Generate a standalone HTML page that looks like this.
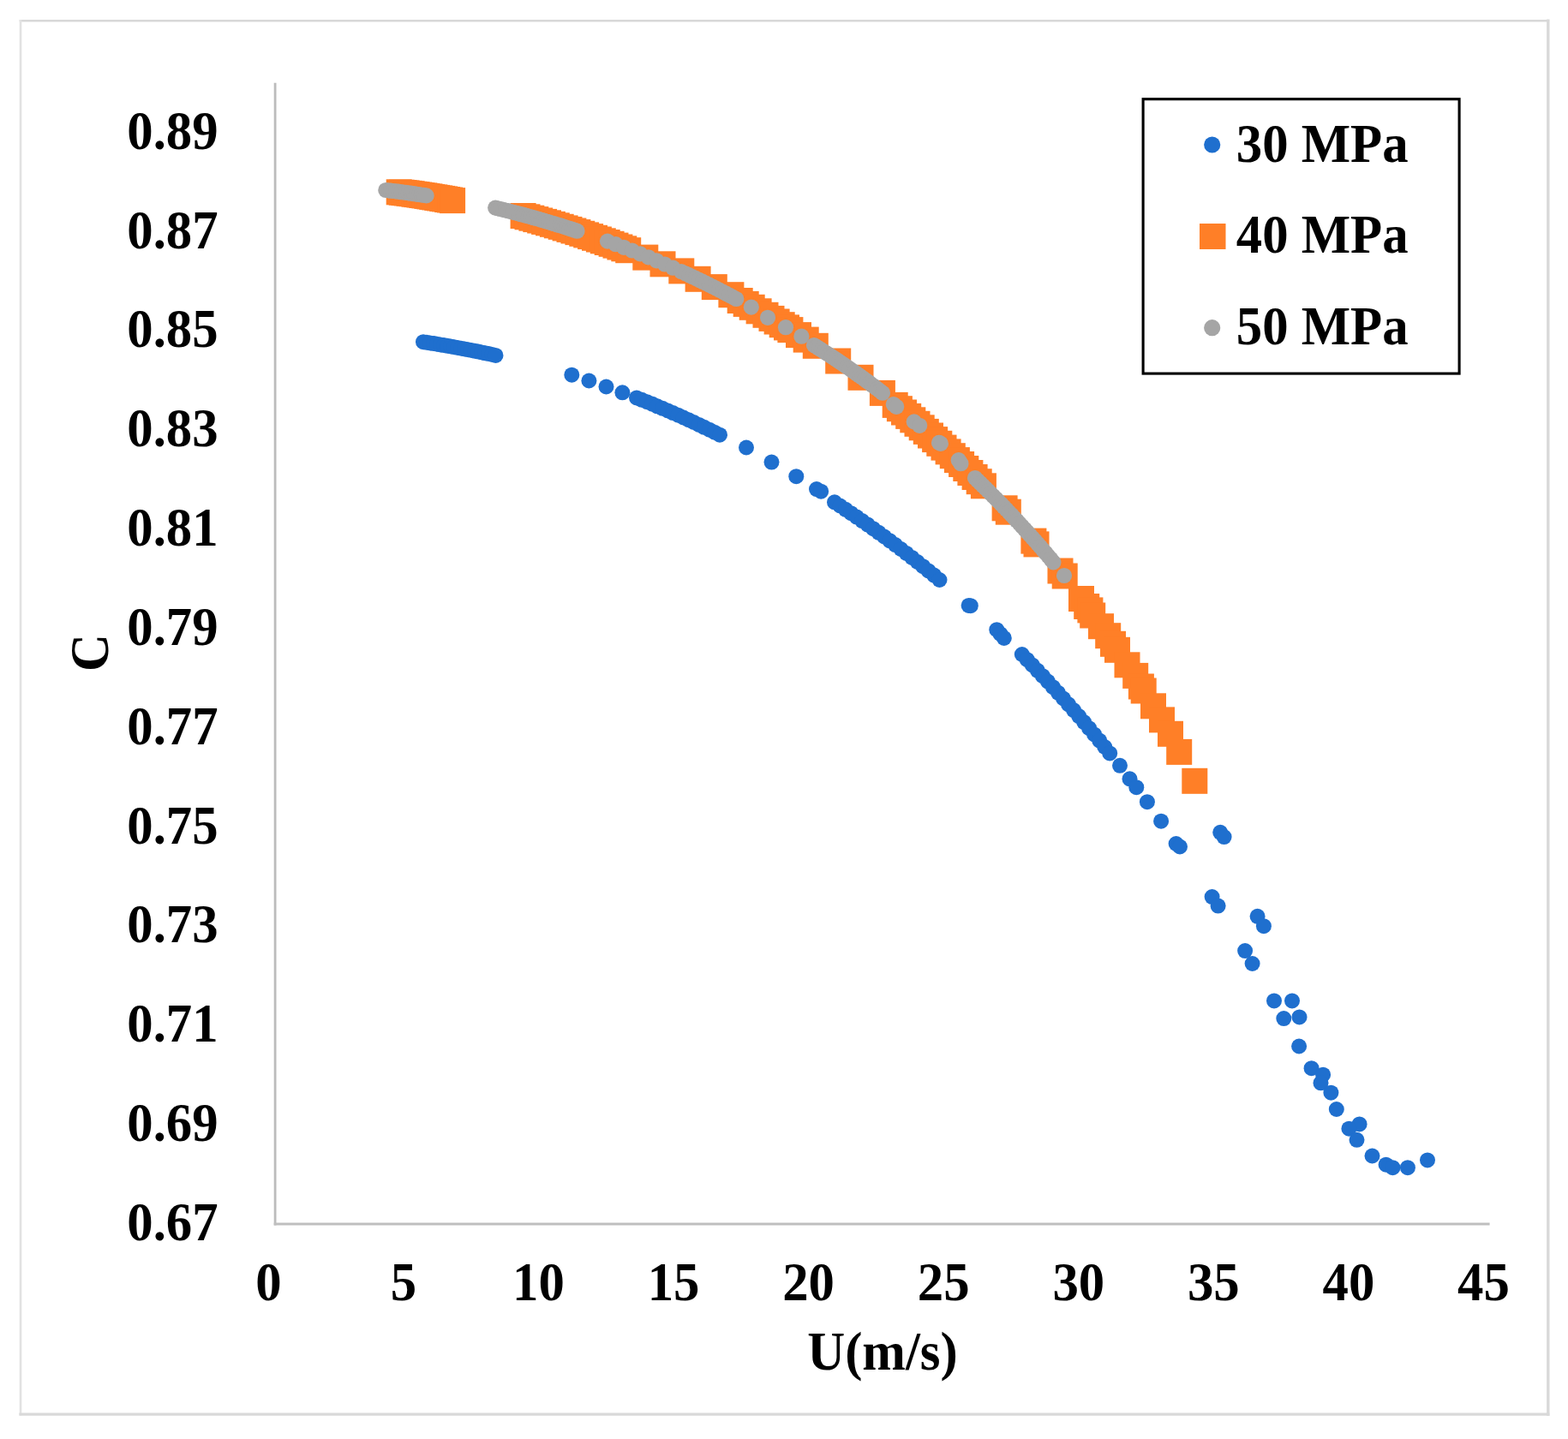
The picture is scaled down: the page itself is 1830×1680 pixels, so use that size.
<!DOCTYPE html>
<html lang="en"><head><meta charset="utf-8"><title>C vs U chart</title>
<style>
html,body{margin:0;padding:0;background:#fff;}
body{width:1830px;height:1680px;overflow:hidden;}
svg{display:block;}
text{font-family:"Liberation Serif", "DejaVu Serif", serif;font-weight:bold;font-size:60px;fill:#000;}
</style></head><body>
<svg width="1830" height="1680" viewBox="0 0 1830 1680">
<rect x="0" y="0" width="1830" height="1680" fill="#ffffff"/>
<g fill="none" stroke-linecap="square">
<line x1="24" y1="24.3" x2="1806.8" y2="24.3" stroke="#d8d8d8" stroke-width="2.6"/>
<line x1="24" y1="24.3" x2="24" y2="1651.2" stroke="#e2e2e2" stroke-width="2.6"/>
<line x1="1806.8" y1="24.3" x2="1806.8" y2="1651.2" stroke="#d9d9d9" stroke-width="3.4"/>
<line x1="24" y1="1651.2" x2="1806.8" y2="1651.2" stroke="#d9d9d9" stroke-width="3.2"/>
</g>
<g stroke="#bfbfbf" fill="none">
<line x1="321.1" y1="96.7" x2="321.1" y2="1430.4" stroke="#bcbcbc" stroke-width="2.8"/>
<line x1="319.7" y1="1428.9" x2="1738.6" y2="1428.9" stroke-width="3"/>
</g>

<g text-anchor="end">
<text transform="translate(254.6 1447.9) scale(1.013 1.072)" text-anchor="end">0.67</text>
<text transform="translate(254.6 1332.1) scale(1.013 1.072)" text-anchor="end">0.69</text>
<text transform="translate(254.6 1216.2) scale(1.013 1.072)" text-anchor="end">0.71</text>
<text transform="translate(254.6 1100.4) scale(1.013 1.072)" text-anchor="end">0.73</text>
<text transform="translate(254.6 984.5) scale(1.013 1.072)" text-anchor="end">0.75</text>
<text transform="translate(254.6 868.7) scale(1.013 1.072)" text-anchor="end">0.77</text>
<text transform="translate(254.6 752.9) scale(1.013 1.072)" text-anchor="end">0.79</text>
<text transform="translate(254.6 637.0) scale(1.013 1.072)" text-anchor="end">0.81</text>
<text transform="translate(254.6 521.2) scale(1.013 1.072)" text-anchor="end">0.83</text>
<text transform="translate(254.6 405.3) scale(1.013 1.072)" text-anchor="end">0.85</text>
<text transform="translate(254.6 289.5) scale(1.013 1.072)" text-anchor="end">0.87</text>
<text transform="translate(254.6 173.7) scale(1.013 1.072)" text-anchor="end">0.89</text>
</g>
<g text-anchor="middle">
<text transform="translate(313.4 1518.4) scale(1.013 1.072)" text-anchor="middle">0</text>
<text transform="translate(471.0 1518.4) scale(1.013 1.072)" text-anchor="middle">5</text>
<text transform="translate(628.5 1518.4) scale(1.013 1.072)" text-anchor="middle">10</text>
<text transform="translate(786.1 1518.4) scale(1.013 1.072)" text-anchor="middle">15</text>
<text transform="translate(943.6 1518.4) scale(1.013 1.072)" text-anchor="middle">20</text>
<text transform="translate(1101.2 1518.4) scale(1.013 1.072)" text-anchor="middle">25</text>
<text transform="translate(1258.8 1518.4) scale(1.013 1.072)" text-anchor="middle">30</text>
<text transform="translate(1416.3 1518.4) scale(1.013 1.072)" text-anchor="middle">35</text>
<text transform="translate(1573.9 1518.4) scale(1.013 1.072)" text-anchor="middle">40</text>
<text transform="translate(1731.4 1518.4) scale(1.013 1.072)" text-anchor="middle">45</text>
</g>
<text transform="translate(1030.0 1598.5) scale(1.013 1.072)" text-anchor="middle">U(m/s)</text>
<text transform="translate(126.0 762.0) rotate(-90) scale(1.013 1.072)" text-anchor="middle">C</text>
<g fill="#1F6FCE">
<circle cx="494.0" cy="399.2" r="9.0"/>
<circle cx="498.0" cy="399.8" r="9.0"/>
<circle cx="502.0" cy="400.4" r="9.0"/>
<circle cx="506.1" cy="401.1" r="9.0"/>
<circle cx="510.1" cy="401.7" r="9.0"/>
<circle cx="514.1" cy="402.4" r="9.0"/>
<circle cx="518.1" cy="403.1" r="9.0"/>
<circle cx="522.2" cy="403.8" r="9.0"/>
<circle cx="526.2" cy="404.5" r="9.0"/>
<circle cx="530.2" cy="405.2" r="9.0"/>
<circle cx="534.2" cy="405.9" r="9.0"/>
<circle cx="538.3" cy="406.7" r="9.0"/>
<circle cx="542.3" cy="407.4" r="9.0"/>
<circle cx="546.3" cy="408.2" r="9.0"/>
<circle cx="550.3" cy="409.0" r="9.0"/>
<circle cx="554.4" cy="409.8" r="9.0"/>
<circle cx="558.4" cy="410.6" r="9.0"/>
<circle cx="562.4" cy="411.4" r="9.0"/>
<circle cx="566.4" cy="412.3" r="9.0"/>
<circle cx="570.5" cy="413.1" r="9.0"/>
<circle cx="574.5" cy="414.0" r="9.0"/>
<circle cx="578.5" cy="414.9" r="9.0"/>
<circle cx="667.3" cy="437.7" r="9.0"/>
<circle cx="687.4" cy="444.5" r="9.0"/>
<circle cx="707.5" cy="451.5" r="9.0"/>
<circle cx="726.4" cy="458.3" r="9.0"/>
<circle cx="743.0" cy="464.4" r="9.0"/>
<circle cx="749.1" cy="466.8" r="9.0"/>
<circle cx="755.1" cy="469.2" r="9.0"/>
<circle cx="761.2" cy="471.7" r="9.0"/>
<circle cx="767.2" cy="474.3" r="9.0"/>
<circle cx="773.3" cy="476.8" r="9.0"/>
<circle cx="779.4" cy="479.4" r="9.0"/>
<circle cx="785.4" cy="482.1" r="9.0"/>
<circle cx="791.5" cy="484.7" r="9.0"/>
<circle cx="797.6" cy="487.5" r="9.0"/>
<circle cx="803.6" cy="490.2" r="9.0"/>
<circle cx="809.7" cy="493.0" r="9.0"/>
<circle cx="815.8" cy="495.9" r="9.0"/>
<circle cx="821.8" cy="498.8" r="9.0"/>
<circle cx="827.9" cy="501.7" r="9.0"/>
<circle cx="833.9" cy="504.7" r="9.0"/>
<circle cx="840.0" cy="507.7" r="9.0"/>
<circle cx="871.0" cy="522.5" r="9.0"/>
<circle cx="900.5" cy="539.6" r="9.0"/>
<circle cx="929.3" cy="556.2" r="9.0"/>
<circle cx="953.0" cy="571.1" r="9.0"/>
<circle cx="958.2" cy="573.7" r="9.0"/>
<circle cx="974.0" cy="586.3" r="9.0"/>
<circle cx="980.4" cy="590.5" r="9.0"/>
<circle cx="986.9" cy="594.8" r="9.0"/>
<circle cx="993.3" cy="599.2" r="9.0"/>
<circle cx="999.8" cy="603.6" r="9.0"/>
<circle cx="1006.2" cy="608.1" r="9.0"/>
<circle cx="1012.7" cy="612.6" r="9.0"/>
<circle cx="1019.1" cy="617.2" r="9.0"/>
<circle cx="1025.6" cy="621.8" r="9.0"/>
<circle cx="1032.0" cy="626.5" r="9.0"/>
<circle cx="1038.5" cy="631.3" r="9.0"/>
<circle cx="1044.9" cy="636.1" r="9.0"/>
<circle cx="1051.4" cy="641.0" r="9.0"/>
<circle cx="1057.8" cy="645.9" r="9.0"/>
<circle cx="1064.3" cy="650.9" r="9.0"/>
<circle cx="1070.7" cy="656.0" r="9.0"/>
<circle cx="1077.2" cy="661.2" r="9.0"/>
<circle cx="1083.6" cy="666.4" r="9.0"/>
<circle cx="1090.1" cy="671.6" r="9.0"/>
<circle cx="1096.5" cy="677.0" r="9.0"/>
<circle cx="1130.6" cy="706.9" r="9.0"/>
<circle cx="1132.8" cy="707.2" r="9.0"/>
<circle cx="1163.3" cy="735.2" r="9.0"/>
<circle cx="1167.6" cy="740.2" r="9.0"/>
<circle cx="1171.8" cy="744.9" r="9.0"/>
<circle cx="1192.8" cy="764.0" r="9.0"/>
<circle cx="1198.8" cy="770.2" r="9.0"/>
<circle cx="1204.8" cy="776.4" r="9.0"/>
<circle cx="1210.9" cy="782.8" r="9.0"/>
<circle cx="1216.9" cy="789.2" r="9.0"/>
<circle cx="1222.9" cy="795.6" r="9.0"/>
<circle cx="1228.9" cy="802.2" r="9.0"/>
<circle cx="1235.0" cy="808.8" r="9.0"/>
<circle cx="1241.0" cy="815.5" r="9.0"/>
<circle cx="1247.0" cy="822.3" r="9.0"/>
<circle cx="1253.0" cy="829.1" r="9.0"/>
<circle cx="1259.1" cy="836.1" r="9.0"/>
<circle cx="1265.1" cy="843.1" r="9.0"/>
<circle cx="1271.1" cy="850.2" r="9.0"/>
<circle cx="1277.1" cy="857.4" r="9.0"/>
<circle cx="1283.2" cy="864.6" r="9.0"/>
<circle cx="1289.2" cy="872.0" r="9.0"/>
<circle cx="1295.2" cy="879.4" r="9.0"/>
<circle cx="1307.0" cy="893.8" r="9.0"/>
<circle cx="1318.5" cy="909.3" r="9.0"/>
<circle cx="1326.3" cy="919.2" r="9.0"/>
<circle cx="1338.9" cy="936.2" r="9.0"/>
<circle cx="1355.1" cy="958.7" r="9.0"/>
<circle cx="1372.6" cy="985.0" r="9.0"/>
<circle cx="1377.0" cy="988.5" r="9.0"/>
<circle cx="1424.2" cy="971.8" r="9.0"/>
<circle cx="1428.6" cy="977.1" r="9.0"/>
<circle cx="1414.6" cy="1047.1" r="9.0"/>
<circle cx="1421.6" cy="1057.6" r="9.0"/>
<circle cx="1467.6" cy="1069.8" r="9.0"/>
<circle cx="1474.9" cy="1081.2" r="9.0"/>
<circle cx="1453.1" cy="1110.1" r="9.0"/>
<circle cx="1461.6" cy="1125.0" r="9.0"/>
<circle cx="1487.0" cy="1168.4" r="9.0"/>
<circle cx="1508.0" cy="1168.4" r="9.0"/>
<circle cx="1498.3" cy="1189.1" r="9.0"/>
<circle cx="1516.5" cy="1187.4" r="9.0"/>
<circle cx="1516.1" cy="1221.5" r="9.0"/>
<circle cx="1530.6" cy="1247.2" r="9.0"/>
<circle cx="1544.1" cy="1254.7" r="9.0"/>
<circle cx="1541.5" cy="1264.3" r="9.0"/>
<circle cx="1553.4" cy="1275.7" r="9.0"/>
<circle cx="1559.8" cy="1295.0" r="9.0"/>
<circle cx="1586.6" cy="1312.4" r="9.0"/>
<circle cx="1574.4" cy="1317.7" r="9.0"/>
<circle cx="1583.5" cy="1330.8" r="9.0"/>
<circle cx="1601.5" cy="1349.5" r="9.0"/>
<circle cx="1617.6" cy="1359.7" r="9.0"/>
<circle cx="1625.4" cy="1363.2" r="9.0"/>
<circle cx="1642.9" cy="1363.2" r="9.0"/>
<circle cx="1666.0" cy="1354.4" r="9.0"/>
</g>
<g fill="#FF7F27">
<rect x="450.7" y="209.3" width="30" height="30"/>
<rect x="453.7" y="209.7" width="30" height="30"/>
<rect x="456.6" y="210.1" width="30" height="30"/>
<rect x="459.6" y="210.4" width="30" height="30"/>
<rect x="462.6" y="210.8" width="30" height="30"/>
<rect x="465.6" y="211.2" width="30" height="30"/>
<rect x="468.5" y="211.7" width="30" height="30"/>
<rect x="471.5" y="212.1" width="30" height="30"/>
<rect x="474.5" y="212.5" width="30" height="30"/>
<rect x="477.4" y="213.0" width="30" height="30"/>
<rect x="480.4" y="213.4" width="30" height="30"/>
<rect x="483.4" y="213.9" width="30" height="30"/>
<rect x="486.4" y="214.4" width="30" height="30"/>
<rect x="489.3" y="214.9" width="30" height="30"/>
<rect x="492.3" y="215.4" width="30" height="30"/>
<rect x="495.3" y="215.9" width="30" height="30"/>
<rect x="498.2" y="216.4" width="30" height="30"/>
<rect x="501.2" y="216.9" width="30" height="30"/>
<rect x="504.2" y="217.4" width="30" height="30"/>
<rect x="507.2" y="218.0" width="30" height="30"/>
<rect x="510.1" y="218.5" width="30" height="30"/>
<rect x="513.1" y="219.1" width="30" height="30"/>
<rect x="595.6" y="237.0" width="30" height="30"/>
<rect x="600.5" y="238.3" width="30" height="30"/>
<rect x="605.4" y="239.7" width="30" height="30"/>
<rect x="610.3" y="241.1" width="30" height="30"/>
<rect x="615.2" y="242.5" width="30" height="30"/>
<rect x="620.1" y="243.9" width="30" height="30"/>
<rect x="625.0" y="245.3" width="30" height="30"/>
<rect x="629.9" y="246.8" width="30" height="30"/>
<rect x="634.8" y="248.3" width="30" height="30"/>
<rect x="639.7" y="249.8" width="30" height="30"/>
<rect x="644.6" y="251.4" width="30" height="30"/>
<rect x="649.5" y="252.9" width="30" height="30"/>
<rect x="654.4" y="254.5" width="30" height="30"/>
<rect x="659.4" y="256.1" width="30" height="30"/>
<rect x="664.3" y="257.8" width="30" height="30"/>
<rect x="669.2" y="259.4" width="30" height="30"/>
<rect x="674.1" y="261.1" width="30" height="30"/>
<rect x="679.0" y="262.8" width="30" height="30"/>
<rect x="683.9" y="264.5" width="30" height="30"/>
<rect x="688.8" y="266.3" width="30" height="30"/>
<rect x="693.7" y="268.0" width="30" height="30"/>
<rect x="698.6" y="269.8" width="30" height="30"/>
<rect x="703.5" y="271.6" width="30" height="30"/>
<rect x="708.4" y="273.5" width="30" height="30"/>
<rect x="713.3" y="275.3" width="30" height="30"/>
<rect x="718.2" y="277.2" width="30" height="30"/>
<rect x="738.3" y="285.6" width="30" height="30"/>
<rect x="758.5" y="293.3" width="30" height="30"/>
<rect x="780.3" y="301.4" width="30" height="30"/>
<rect x="799.6" y="310.8" width="30" height="30"/>
<rect x="818.8" y="320.1" width="30" height="30"/>
<rect x="838.4" y="329.2" width="30" height="30"/>
<rect x="848.7" y="336.0" width="30" height="30"/>
<rect x="855.7" y="339.9" width="30" height="30"/>
<rect x="862.7" y="343.8" width="30" height="30"/>
<rect x="870.6" y="348.3" width="30" height="30"/>
<rect x="878.5" y="352.8" width="30" height="30"/>
<rect x="885.5" y="356.9" width="30" height="30"/>
<rect x="891.6" y="360.5" width="30" height="30"/>
<rect x="897.7" y="364.2" width="30" height="30"/>
<rect x="903.0" y="367.4" width="30" height="30"/>
<rect x="907.4" y="370.1" width="30" height="30"/>
<rect x="917.0" y="376.1" width="30" height="30"/>
<rect x="925.7" y="381.6" width="30" height="30"/>
<rect x="936.8" y="388.8" width="30" height="30"/>
<rect x="963.2" y="406.5" width="30" height="30"/>
<rect x="989.5" y="425.8" width="30" height="30"/>
<rect x="1014.9" y="443.9" width="30" height="30"/>
<rect x="1029.7" y="457.9" width="30" height="30"/>
<rect x="1034.9" y="462.2" width="30" height="30"/>
<rect x="1040.0" y="466.5" width="30" height="30"/>
<rect x="1045.2" y="470.9" width="30" height="30"/>
<rect x="1050.3" y="475.3" width="30" height="30"/>
<rect x="1055.5" y="479.8" width="30" height="30"/>
<rect x="1060.7" y="484.3" width="30" height="30"/>
<rect x="1065.8" y="488.9" width="30" height="30"/>
<rect x="1071.0" y="493.5" width="30" height="30"/>
<rect x="1076.1" y="498.1" width="30" height="30"/>
<rect x="1081.3" y="502.8" width="30" height="30"/>
<rect x="1086.5" y="507.6" width="30" height="30"/>
<rect x="1091.6" y="512.4" width="30" height="30"/>
<rect x="1096.8" y="517.2" width="30" height="30"/>
<rect x="1101.9" y="522.1" width="30" height="30"/>
<rect x="1107.1" y="527.0" width="30" height="30"/>
<rect x="1112.3" y="532.0" width="30" height="30"/>
<rect x="1117.4" y="537.0" width="30" height="30"/>
<rect x="1122.6" y="542.0" width="30" height="30"/>
<rect x="1127.7" y="547.2" width="30" height="30"/>
<rect x="1132.9" y="552.3" width="30" height="30"/>
<rect x="1157.6" y="578.3" width="30" height="30"/>
<rect x="1161.8" y="582.7" width="30" height="30"/>
<rect x="1191.4" y="616.6" width="30" height="30"/>
<rect x="1194.5" y="620.4" width="30" height="30"/>
<rect x="1222.5" y="651.5" width="30" height="30"/>
<rect x="1227.7" y="657.5" width="30" height="30"/>
<rect x="1247.0" y="684.0" width="30" height="30"/>
<rect x="1253.2" y="693.0" width="30" height="30"/>
<rect x="1257.4" y="697.4" width="30" height="30"/>
<rect x="1260.2" y="703.5" width="30" height="30"/>
<rect x="1270.0" y="716.2" width="30" height="30"/>
<rect x="1278.2" y="727.2" width="30" height="30"/>
<rect x="1284.0" y="736.8" width="30" height="30"/>
<rect x="1289.0" y="743.8" width="30" height="30"/>
<rect x="1300.5" y="761.3" width="30" height="30"/>
<rect x="1310.2" y="773.9" width="30" height="30"/>
<rect x="1316.9" y="786.5" width="30" height="30"/>
<rect x="1319.7" y="791.5" width="30" height="30"/>
<rect x="1331.0" y="809.3" width="30" height="30"/>
<rect x="1341.0" y="825.4" width="30" height="30"/>
<rect x="1351.0" y="841.8" width="30" height="30"/>
<rect x="1361.2" y="862.9" width="30" height="30"/>
<rect x="1379.3" y="896.8" width="30" height="30"/>
</g>
<g fill="#A5A5A5">
<circle cx="450.3" cy="222.0" r="9.1"/>
<circle cx="453.3" cy="222.3" r="9.1"/>
<circle cx="456.2" cy="222.7" r="9.1"/>
<circle cx="459.2" cy="223.0" r="9.1"/>
<circle cx="462.1" cy="223.4" r="9.1"/>
<circle cx="465.1" cy="223.7" r="9.1"/>
<circle cx="468.0" cy="224.1" r="9.1"/>
<circle cx="471.0" cy="224.5" r="9.1"/>
<circle cx="474.0" cy="224.9" r="9.1"/>
<circle cx="476.9" cy="225.3" r="9.1"/>
<circle cx="479.9" cy="225.7" r="9.1"/>
<circle cx="482.8" cy="226.1" r="9.1"/>
<circle cx="485.8" cy="226.6" r="9.1"/>
<circle cx="488.7" cy="227.0" r="9.1"/>
<circle cx="491.7" cy="227.5" r="9.1"/>
<circle cx="494.6" cy="227.9" r="9.1"/>
<circle cx="497.6" cy="228.4" r="9.1"/>
<circle cx="578.2" cy="242.6" r="9.1"/>
<circle cx="581.2" cy="243.3" r="9.1"/>
<circle cx="584.2" cy="244.0" r="9.1"/>
<circle cx="587.1" cy="244.8" r="9.1"/>
<circle cx="590.1" cy="245.5" r="9.1"/>
<circle cx="593.1" cy="246.2" r="9.1"/>
<circle cx="596.1" cy="247.0" r="9.1"/>
<circle cx="599.0" cy="247.8" r="9.1"/>
<circle cx="602.0" cy="248.5" r="9.1"/>
<circle cx="605.0" cy="249.3" r="9.1"/>
<circle cx="608.0" cy="250.1" r="9.1"/>
<circle cx="611.0" cy="250.9" r="9.1"/>
<circle cx="613.9" cy="251.7" r="9.1"/>
<circle cx="616.9" cy="252.5" r="9.1"/>
<circle cx="619.9" cy="253.4" r="9.1"/>
<circle cx="622.9" cy="254.2" r="9.1"/>
<circle cx="625.9" cy="255.0" r="9.1"/>
<circle cx="628.8" cy="255.9" r="9.1"/>
<circle cx="631.8" cy="256.8" r="9.1"/>
<circle cx="634.8" cy="257.6" r="9.1"/>
<circle cx="637.8" cy="258.5" r="9.1"/>
<circle cx="640.7" cy="259.4" r="9.1"/>
<circle cx="643.7" cy="260.3" r="9.1"/>
<circle cx="646.7" cy="261.2" r="9.1"/>
<circle cx="649.7" cy="262.1" r="9.1"/>
<circle cx="652.7" cy="263.0" r="9.1"/>
<circle cx="655.6" cy="263.9" r="9.1"/>
<circle cx="658.6" cy="264.9" r="9.1"/>
<circle cx="661.6" cy="265.8" r="9.1"/>
<circle cx="664.6" cy="266.8" r="9.1"/>
<circle cx="667.5" cy="267.7" r="9.1"/>
<circle cx="670.5" cy="268.7" r="9.1"/>
<circle cx="673.5" cy="269.7" r="9.1"/>
<circle cx="709.0" cy="281.6" r="9.1"/>
<circle cx="718.6" cy="285.2" r="9.1"/>
<circle cx="728.1" cy="288.8" r="9.1"/>
<circle cx="737.7" cy="292.5" r="9.1"/>
<circle cx="747.2" cy="296.4" r="9.1"/>
<circle cx="756.8" cy="300.3" r="9.1"/>
<circle cx="766.3" cy="304.3" r="9.1"/>
<circle cx="775.9" cy="308.5" r="9.1"/>
<circle cx="785.4" cy="312.7" r="9.1"/>
<circle cx="795.0" cy="317.0" r="9.1"/>
<circle cx="800.0" cy="319.3" r="9.1"/>
<circle cx="804.0" cy="321.1" r="9.1"/>
<circle cx="807.9" cy="323.0" r="9.1"/>
<circle cx="811.9" cy="324.9" r="9.1"/>
<circle cx="815.8" cy="326.8" r="9.1"/>
<circle cx="819.8" cy="328.7" r="9.1"/>
<circle cx="823.7" cy="330.6" r="9.1"/>
<circle cx="827.7" cy="332.6" r="9.1"/>
<circle cx="831.6" cy="334.5" r="9.1"/>
<circle cx="835.6" cy="336.5" r="9.1"/>
<circle cx="839.5" cy="338.6" r="9.1"/>
<circle cx="843.5" cy="340.6" r="9.1"/>
<circle cx="847.4" cy="342.7" r="9.1"/>
<circle cx="851.4" cy="344.8" r="9.1"/>
<circle cx="855.3" cy="346.9" r="9.1"/>
<circle cx="859.3" cy="349.0" r="9.1"/>
<circle cx="876.8" cy="358.6" r="9.1"/>
<circle cx="896.0" cy="370.8" r="9.1"/>
<circle cx="917.0" cy="382.2" r="9.1"/>
<circle cx="935.4" cy="392.7" r="9.1"/>
<circle cx="950.0" cy="403.0" r="9.1"/>
<circle cx="953.0" cy="404.9" r="9.1"/>
<circle cx="955.9" cy="406.8" r="9.1"/>
<circle cx="958.9" cy="408.6" r="9.1"/>
<circle cx="961.9" cy="410.6" r="9.1"/>
<circle cx="964.8" cy="412.5" r="9.1"/>
<circle cx="967.8" cy="414.4" r="9.1"/>
<circle cx="970.7" cy="416.4" r="9.1"/>
<circle cx="973.7" cy="418.3" r="9.1"/>
<circle cx="976.7" cy="420.3" r="9.1"/>
<circle cx="979.6" cy="422.3" r="9.1"/>
<circle cx="982.6" cy="424.3" r="9.1"/>
<circle cx="985.6" cy="426.3" r="9.1"/>
<circle cx="988.5" cy="428.4" r="9.1"/>
<circle cx="991.5" cy="430.4" r="9.1"/>
<circle cx="994.4" cy="432.5" r="9.1"/>
<circle cx="997.4" cy="434.6" r="9.1"/>
<circle cx="1000.4" cy="436.7" r="9.1"/>
<circle cx="1003.3" cy="438.8" r="9.1"/>
<circle cx="1006.3" cy="440.9" r="9.1"/>
<circle cx="1009.3" cy="443.1" r="9.1"/>
<circle cx="1012.2" cy="445.3" r="9.1"/>
<circle cx="1015.2" cy="447.4" r="9.1"/>
<circle cx="1018.1" cy="449.7" r="9.1"/>
<circle cx="1021.1" cy="451.9" r="9.1"/>
<circle cx="1024.1" cy="454.1" r="9.1"/>
<circle cx="1027.0" cy="456.4" r="9.1"/>
<circle cx="1030.0" cy="458.7" r="9.1"/>
<circle cx="1042.8" cy="472.0" r="9.1"/>
<circle cx="1046.2" cy="474.8" r="9.1"/>
<circle cx="1066.8" cy="492.4" r="9.1"/>
<circle cx="1073.2" cy="496.8" r="9.1"/>
<circle cx="1096.0" cy="516.9" r="9.1"/>
<circle cx="1097.9" cy="517.9" r="9.1"/>
<circle cx="1118.8" cy="537.2" r="9.1"/>
<circle cx="1121.4" cy="541.2" r="9.1"/>
<circle cx="1138.0" cy="558.0" r="9.1"/>
<circle cx="1141.0" cy="561.0" r="9.1"/>
<circle cx="1144.1" cy="564.0" r="9.1"/>
<circle cx="1147.1" cy="567.0" r="9.1"/>
<circle cx="1150.2" cy="570.0" r="9.1"/>
<circle cx="1153.2" cy="573.0" r="9.1"/>
<circle cx="1156.3" cy="576.1" r="9.1"/>
<circle cx="1159.3" cy="579.2" r="9.1"/>
<circle cx="1162.4" cy="582.3" r="9.1"/>
<circle cx="1165.4" cy="585.4" r="9.1"/>
<circle cx="1168.5" cy="588.5" r="9.1"/>
<circle cx="1171.5" cy="591.7" r="9.1"/>
<circle cx="1174.6" cy="594.9" r="9.1"/>
<circle cx="1177.6" cy="598.1" r="9.1"/>
<circle cx="1180.7" cy="601.3" r="9.1"/>
<circle cx="1183.7" cy="604.6" r="9.1"/>
<circle cx="1186.7" cy="607.8" r="9.1"/>
<circle cx="1189.8" cy="611.1" r="9.1"/>
<circle cx="1192.8" cy="614.5" r="9.1"/>
<circle cx="1195.9" cy="617.8" r="9.1"/>
<circle cx="1198.9" cy="621.2" r="9.1"/>
<circle cx="1202.0" cy="624.6" r="9.1"/>
<circle cx="1205.0" cy="628.0" r="9.1"/>
<circle cx="1208.1" cy="631.4" r="9.1"/>
<circle cx="1211.1" cy="634.9" r="9.1"/>
<circle cx="1214.2" cy="638.4" r="9.1"/>
<circle cx="1217.2" cy="642.0" r="9.1"/>
<circle cx="1220.3" cy="645.5" r="9.1"/>
<circle cx="1223.3" cy="649.1" r="9.1"/>
<circle cx="1226.4" cy="652.7" r="9.1"/>
<circle cx="1229.4" cy="656.4" r="9.1"/>
<circle cx="1242.0" cy="672.0" r="9.1"/>
</g>
<rect x="1334.1" y="115.7" width="369" height="320.4" fill="#ffffff" stroke="#000" stroke-width="3.1"/>
<circle cx="1414.7" cy="169" r="9.6" fill="#1F6FCE"/>
<rect x="1400" y="261" width="30.5" height="30" fill="#FF7F27"/>
<circle cx="1414.7" cy="382.7" r="9.6" fill="#A5A5A5"/>
<text transform="translate(1442.8 189.2) scale(1.013 1.072)" text-anchor="start">30 MPa</text>
<text transform="translate(1442.8 294.6) scale(1.013 1.072)" text-anchor="start">40 MPa</text>
<text transform="translate(1442.8 402.2) scale(1.013 1.072)" text-anchor="start">50 MPa</text>
</svg></body></html>
